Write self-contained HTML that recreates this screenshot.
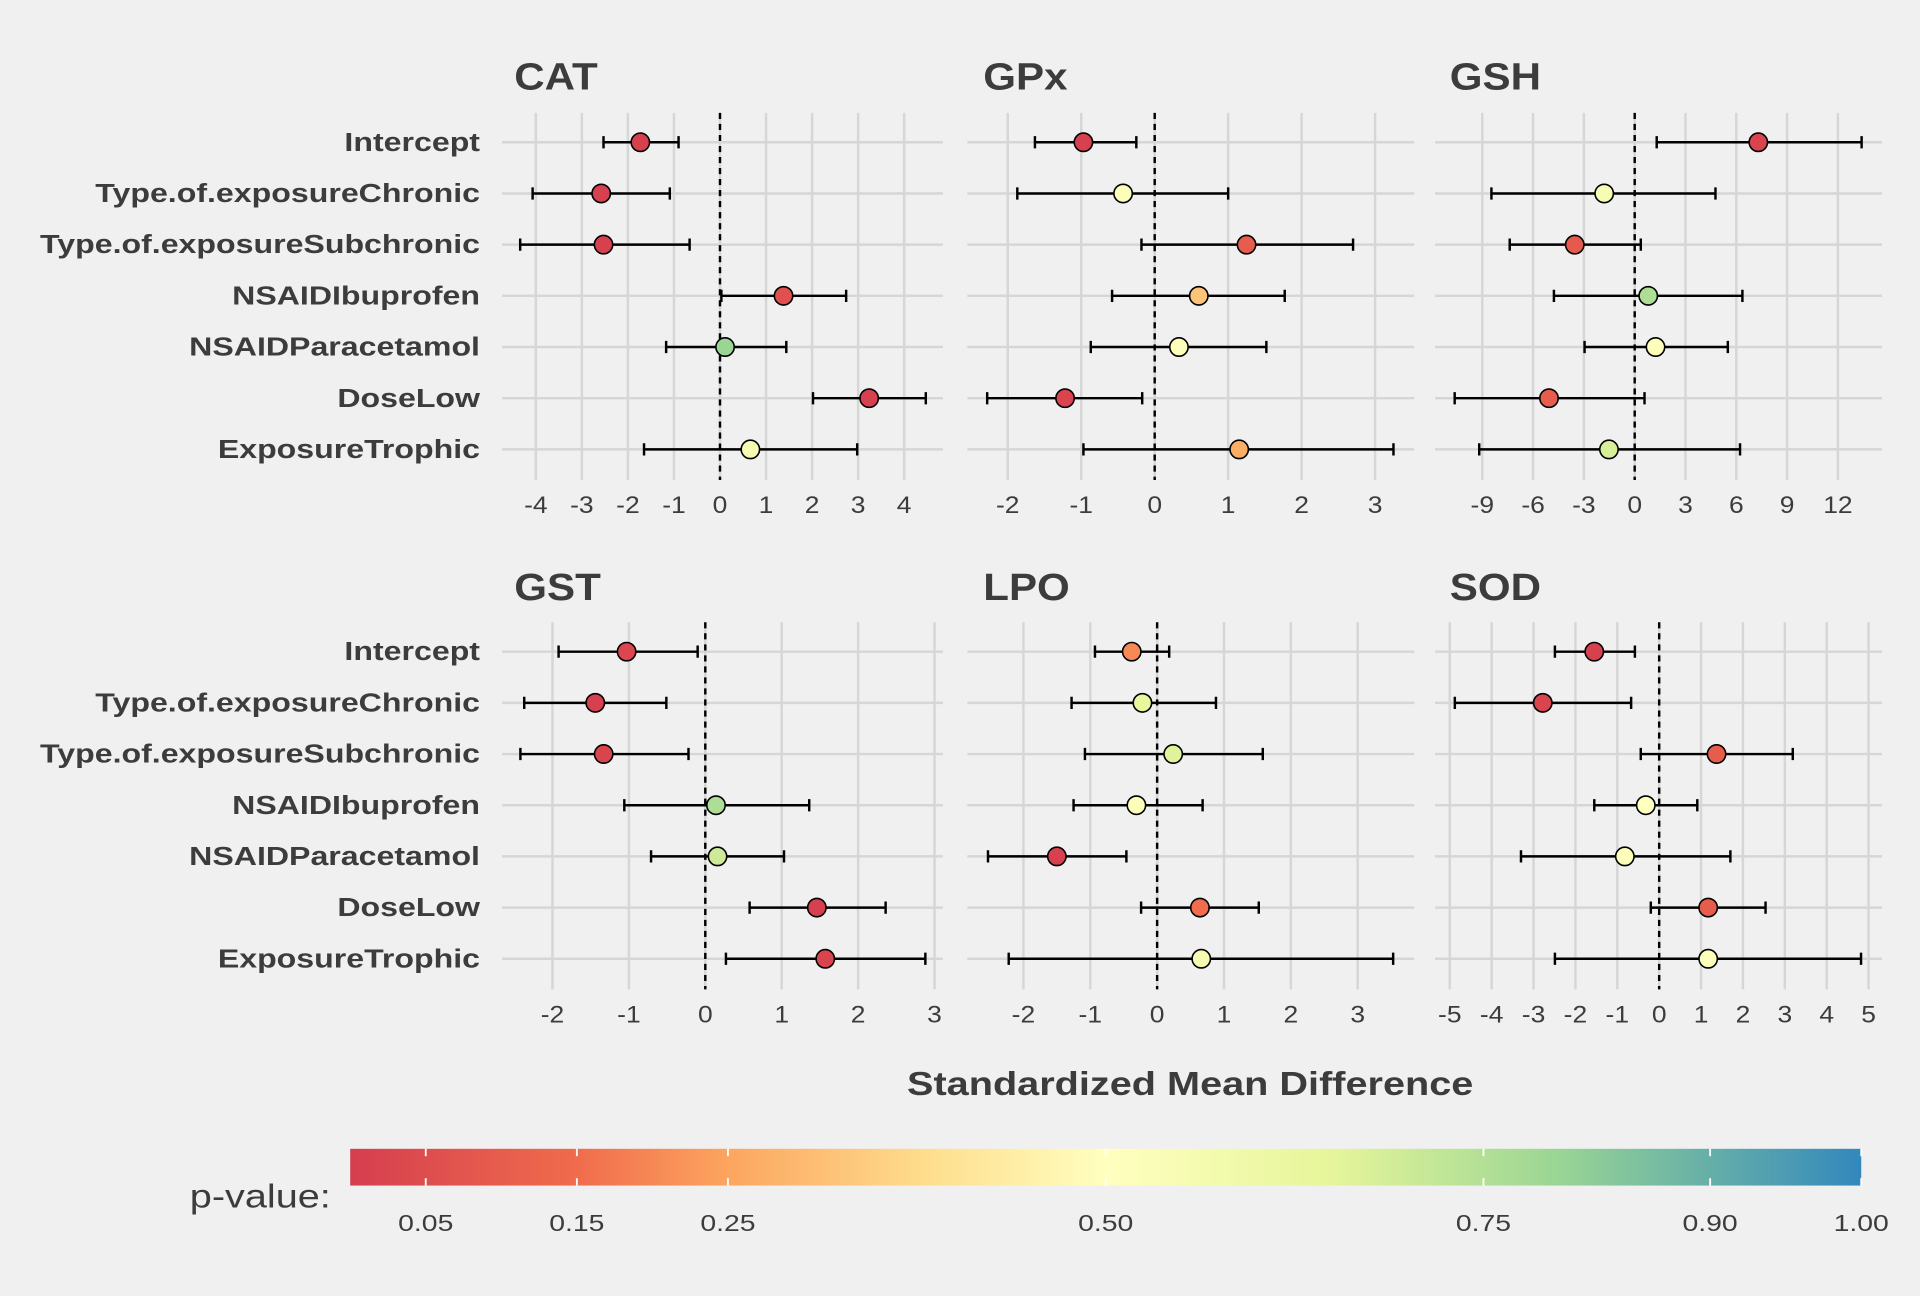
<!DOCTYPE html>
<html><head><meta charset="utf-8"><style>
html,body{margin:0;padding:0;background:#f0f0f0;}
svg{display:block;font-family:"Liberation Sans",Arial,sans-serif;}
</style></head><body>
<svg id="chart" width="1920" height="1296" viewBox="0 0 1568 1058" xmlns="http://www.w3.org/2000/svg">
<defs>
<linearGradient id="pgrad" x1="0" x2="1" y1="0" y2="0">
<stop offset="0" stop-color="#d53e4f"/><stop offset="0.15" stop-color="#f06c4c"/>
<stop offset="0.25" stop-color="#fca55f"/><stop offset="0.38" stop-color="#fedd8d"/>
<stop offset="0.5" stop-color="#ffffbf"/><stop offset="0.65" stop-color="#e6f59a"/>
<stop offset="0.8" stop-color="#99d594"/><stop offset="1" stop-color="#3288bd"/>
</linearGradient>
</defs>
<rect width="1568" height="1058" fill="#f0f0f0"/>
<g id="plots"></g>
<text id="xtitle" x="972" y="894" text-anchor="middle" font-size="27" font-weight="bold" fill="#3c3c3c">Standardized Mean Difference</text>
<g id="legend">
<text id="ltitle" x="155" y="986" font-size="27" fill="#3c3c3c">p-value:</text>
<rect x="286" y="938" width="1234" height="30" fill="url(#pgrad)"/>
</g>
</svg>
<script>
const NS="http://www.w3.org/2000/svg";
const terms=["Intercept","Type.of.exposureChronic","Type.of.exposureSubchronic","NSAIDIbuprofen","NSAIDParacetamol","DoseLow","ExposureTrophic"];
const panelNames=["CAT","GPx","GSH","GST","LPO","SOD"];
const estCAT=[-1.73,-2.58,-2.53,1.38,0.11,3.24,0.66];
const loCAT=[-2.53,-4.07,-4.34,0.03,-1.17,2.02,-1.65];
const hiCAT=[-0.9,-1.09,-0.66,2.74,1.44,4.47,2.98];
const pCAT=[0.01,0.01,0.01,0.06,0.8,0.01,0.55];
const estGPx=[-0.97,-0.43,1.25,0.6,0.33,-1.22,1.15];
const loGPx=[-1.63,-1.87,-0.18,-0.58,-0.87,-2.28,-0.97];
const hiGPx=[-0.25,1.0,2.7,1.77,1.52,-0.17,3.25];
const pGPx=[0.01,0.52,0.1,0.32,0.52,0.02,0.27];
const estGSH=[7.3,-1.8,-3.54,0.8,1.23,-5.06,-1.52];
const loGSH=[1.3,-8.46,-7.38,-4.77,-2.96,-10.63,-9.18];
const hiGSH=[13.4,4.77,0.36,6.36,5.5,0.58,6.22];
const pGSH=[0.02,0.55,0.09,0.76,0.52,0.1,0.68];
const estGST=[-1.03,-1.44,-1.33,0.14,0.16,1.46,1.57];
const loGST=[-1.92,-2.37,-2.42,-1.06,-0.71,0.58,0.27];
const hiGST=[-0.1,-0.51,-0.22,1.36,1.03,2.36,2.88];
const pGST=[0.03,0.01,0.02,0.76,0.7,0.01,0.02];
const estLPO=[-0.38,-0.22,0.24,-0.31,-1.5,0.64,0.66];
const loLPO=[-0.93,-1.28,-1.08,-1.25,-2.53,-0.24,-2.22];
const hiLPO=[0.18,0.88,1.58,0.68,-0.46,1.52,3.53];
const pLPO=[0.2,0.64,0.66,0.52,0.01,0.15,0.56];
const estSOD=[-1.55,-2.78,1.37,-0.32,-0.82,1.17,1.17];
const loSOD=[-2.49,-4.88,-0.44,-1.55,-3.3,-0.2,-2.49];
const hiSOD=[-0.58,-0.67,3.19,0.91,1.7,2.54,4.82];
const pSOD=[0.01,0.02,0.1,0.5,0.52,0.1,0.52];
const ticksCAT=[-4,-3,-2,-1,0,1,2,3,4];
const ticksGPx=[-2,-1,0,1,2,3];
const ticksGSH=[-9,-6,-3,0,3,6,9,12];
const ticksGST=[-2,-1,0,1,2,3];
const ticksLPO=[-2,-1,0,1,2,3];
const ticksSOD=[-5,-4,-3,-2,-1,0,1,2,3,4,5];
const legendTicks=[0.05,0.15,0.25,0.50,0.75,0.90,1.00];

const panels=[
 {name:"CAT",est:estCAT,lo:loCAT,hi:hiCAT,p:pCAT,ticks:ticksCAT,zero:588,scale:37.6,x0:410,x1:770,row:0,tx:420},
 {name:"GPx",est:estGPx,lo:loGPx,hi:hiGPx,p:pGPx,ticks:ticksGPx,zero:943,scale:60,x0:790,x1:1155,row:0,tx:803},
 {name:"GSH",est:estGSH,lo:loGSH,hi:hiGSH,p:pGSH,ticks:ticksGSH,zero:1335,scale:13.83,x0:1172,x1:1537,row:0,tx:1184},
 {name:"GST",est:estGST,lo:loGST,hi:hiGST,p:pGST,ticks:ticksGST,zero:576,scale:62.4,x0:410,x1:770,row:1,tx:420},
 {name:"LPO",est:estLPO,lo:loLPO,hi:hiLPO,p:pLPO,ticks:ticksLPO,zero:945,scale:54.6,x0:790,x1:1155,row:1,tx:803},
 {name:"SOD",est:estSOD,lo:loSOD,hi:hiSOD,p:pSOD,ticks:ticksSOD,zero:1355,scale:34.2,x0:1172,x1:1537,row:1,tx:1184}
];
const stops=[[0,[213,62,79]],[0.15,[240,108,76]],[0.25,[252,165,95]],[0.38,[254,221,141]],[0.5,[255,255,191]],[0.65,[230,245,154]],[0.8,[153,213,148]],[1,[50,136,189]]];
function pColor(p){for(let i=0;i<stops.length-1;i++){const a=stops[i],b=stops[i+1];if(p<=b[0]){const t=(p-a[0])/(b[0]-a[0]);return "rgb("+a[1].map((v,k)=>Math.round(v+(b[1][k]-v)*t)).join(",")+")";}}return "rgb(50,136,189)";}
function mk(tag,attrs,parent){const e=document.createElementNS(NS,tag);for(const k in attrs)e.setAttribute(k,attrs[k]);parent.appendChild(e);return e;}
function stretch(t,r){try{const w=t.getComputedTextLength();if(w>0){t.setAttribute("textLength",(w*r).toFixed(1));t.setAttribute("lengthAdjust","spacingAndGlyphs");}}catch(e){}}
const root=document.getElementById("plots");
panels.forEach(P=>{
 const g=mk("g",{},root);
 
 
 const yTop=P.row?532:116, step=41.8;
 const yS=i=>yTop+i*step;
 const xS=v=>P.zero+v*P.scale;
 const gy0=yTop-24, gy1=yTop+6*step+25;
 P.ticks.forEach(t=>{
  const l=mk("line",{x1:xS(t),x2:xS(t),y1:gy0,y2:gy1,stroke:"#d6d6d6","stroke-width":2},g);
  
  
  const tx=mk("text",{x:xS(t),y:gy1+27,"text-anchor":"middle","font-size":20,fill:"#3c3c3c"},g);
  
  
  tx.textContent=t;
  stretch(tx,1.08);
 });
 terms.forEach((t,i)=>{
  const l=mk("line",{x1:P.x0,x2:P.x1,y1:yS(i),y2:yS(i),stroke:"#d6d6d6","stroke-width":2},g);
  
  
  if(P.tx===420){
   const tx=mk("text",{x:392,y:yS(i)+7,"text-anchor":"end","font-size":21.5,"font-weight":"bold",fill:"#3c3c3c"},g);
   
   
   tx.textContent=t;
   stretch(tx,1.22);
  }
 });
 const z=mk("line",{x1:xS(0),x2:xS(0),y1:gy0,y2:gy1,stroke:"#000","stroke-width":2,"stroke-dasharray":"5,4"},g);
 
 
 const ti=mk("text",{x:P.tx,y:P.row?490:73,"font-size":31,"font-weight":"bold",fill:"#3c3c3c"},g);
 
 
 ti.textContent=P.name;
 stretch(ti,1.11);
 terms.forEach((t,i)=>{
  const y=yS(i);
  const eb=mk("path",{d:`M${xS(P.lo[i])},${y}H${xS(P.hi[i])}M${xS(P.lo[i])},${y-5}V${y+5}M${xS(P.hi[i])},${y-5}V${y+5}`,stroke:"#000","stroke-width":2,fill:"none"},g);
  
  
  const c=mk("circle",{cx:xS(P.est[i]),cy:y,r:7.5,fill:pColor(P.p[i]),stroke:"#000","stroke-width":1.3},g);
  
  
 });
});
stretch(document.getElementById("xtitle"),1.2);
stretch(document.getElementById("ltitle"),1.2);
const lg=document.getElementById("legend");
const lx=v=>286+v*1234;
legendTicks.forEach(v=>{
 const l=mk("line",{x1:lx(v),x2:lx(v),y1:938,y2:944,stroke:"#fff","stroke-width":1.5},lg);
 
 
 const l2=mk("line",{x1:lx(v),x2:lx(v),y1:962,y2:968,stroke:"#fff","stroke-width":1.5},lg);
 
 
 const t=mk("text",{x:lx(v),y:1005,"text-anchor":"middle","font-size":19,fill:"#3c3c3c"},lg);
 
 
 t.textContent=v.toFixed(2);
 stretch(t,1.22);
});
</script>
</body></html>
